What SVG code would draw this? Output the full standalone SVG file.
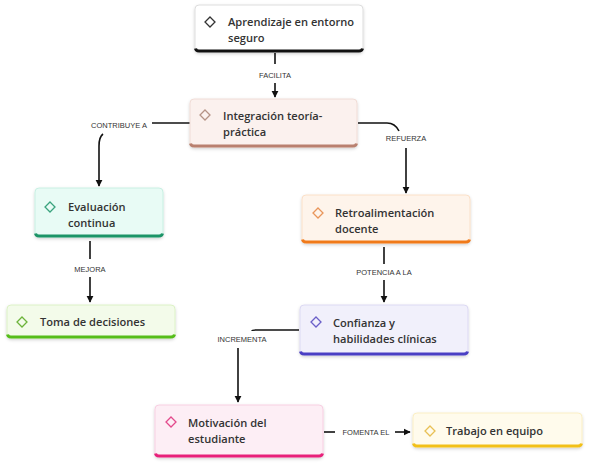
<svg xmlns="http://www.w3.org/2000/svg" width="589" height="464" viewBox="0 0 589 464">
<defs>
<marker id="ah" viewBox="0 0 10 10" refX="9" refY="5" markerWidth="4.5" markerHeight="4.5" orient="auto" markerUnits="strokeWidth">
<path d="M0,0 L10,5 L0,10 z" fill="#111"/>
</marker>
<filter id="sh" x="-10%" y="-20%" width="120%" height="150%">
<feDropShadow dx="0" dy="1.5" stdDeviation="1.5" flood-color="#000" flood-opacity="0.18"/>
</filter>
</defs>
<style>
.t{font-family:"Open Sans","Noto Sans",sans-serif;font-size:11.1px;font-weight:600;fill:#333}
.l{font-family:"Liberation Sans","Noto Sans",sans-serif;font-size:7.5px;fill:#333;text-anchor:middle}
.c{fill:none;stroke:#111;stroke-width:1.6}
.d{fill:none;stroke-width:1.3}
.b{fill:none;stroke-width:3}
</style>
<rect width="589" height="464" fill="#fff"/>

<g id="connectors">
<path class="c" d="M275,53 V64"/>
<text class="l" x="275" y="78">FACILITA</text>
<path class="c" d="M275,83 V97" marker-end="url(#ah)"/>

<path class="c" d="M190,123 H152"/>
<text class="l" x="119" y="128">CONTRIBUYE A</text>
<path class="c" d="M103,134 Q99,137 99,146 V186" marker-end="url(#ah)"/>

<path class="c" d="M358,123 H387 Q395,123 399,131"/>
<text class="l" x="406" y="141">REFUERZA</text>
<path class="c" d="M406,148 V193" marker-end="url(#ah)"/>

<path class="c" d="M90,241 V259"/>
<text class="l" x="90" y="272">MEJORA</text>
<path class="c" d="M90,277 V302" marker-end="url(#ah)"/>

<path class="c" d="M384,247 V264"/>
<text class="l" x="384" y="275">POTENCIA A LA</text>
<path class="c" d="M384,280 V302" marker-end="url(#ah)"/>

<path class="c" d="M299,330 H256 Q252,330 252,331"/>
<text class="l" x="242" y="342">INCREMENTA</text>
<path class="c" d="M238,348 V402" marker-end="url(#ah)"/>

<path class="c" d="M324,432 H335"/>
<text class="l" x="366" y="435">FOMENTA EL</text>
<path class="c" d="M395,432 H410" marker-end="url(#ah)"/>
</g>

<g id="n1">
<rect x="195" y="5" width="168" height="47" rx="4" fill="#ffffff" stroke="#dddddd" filter="url(#sh)"/>
<path class="b" d="M195.5,48.5 Q196,51 199,51 H359 Q362,51 362.5,48.5" stroke="#111"/>
<path class="d" d="M210,17 L215,22 L210,27 L205,22 Z" stroke="#333"/>
<text class="t" x="228" y="26">Aprendizaje en entorno</text>
<text class="t" x="228" y="42">seguro</text>
</g>

<g id="n2">
<rect x="190" y="99" width="167" height="48" rx="4" fill="#fbf1ee" stroke="#f0dcd6" filter="url(#sh)"/>
<path class="b" d="M190.5,143.5 Q191,146 194,146 H353 Q356,146 356.5,143.5" stroke="#b9806f"/>
<path class="d" d="M205,110 L210,115 L205,120 L200,115 Z" stroke="#b59386"/>
<text class="t" x="223" y="120">Integración teoría-</text>
<text class="t" x="223" y="136">práctica</text>
</g>

<g id="n3">
<rect x="35" y="188" width="128" height="49" rx="4" fill="#e8fbf5" stroke="#c8f0e3" filter="url(#sh)"/>
<path class="b" d="M35.5,233.5 Q36,236 39,236 H159 Q162,236 162.5,233.5" stroke="#1c9467"/>
<path class="d" d="M50,202 L55,207 L50,212 L45,207 Z" stroke="#3aa37e"/>
<text class="t" x="68" y="211">Evaluación</text>
<text class="t" x="68" y="227">continua</text>
</g>

<g id="n4">
<rect x="7" y="305" width="168" height="33" rx="4" fill="#f3fbea" stroke="#dcf2c6" filter="url(#sh)"/>
<path class="b" d="M7.5,334.5 Q8,337 11,337 H171 Q174,337 174.5,334.5" stroke="#55bd19"/>
<path class="d" d="M22,317 L27,322 L22,327 L17,322 Z" stroke="#6cb33a"/>
<text class="t" x="40" y="326">Toma de decisiones</text>
</g>

<g id="n5">
<rect x="302" y="195" width="168" height="48" rx="4" fill="#fef4eb" stroke="#fbe0c8" filter="url(#sh)"/>
<path class="b" d="M302.5,239.5 Q303,242 306,242 H466 Q469,242 469.5,239.5" stroke="#f07a1a"/>
<path class="d" d="M318,208 L323,213 L318,218 L313,213 Z" stroke="#e9955a"/>
<text class="t" x="335" y="217">Retroalimentación</text>
<text class="t" x="335" y="233">docente</text>
</g>

<g id="n6">
<rect x="300" y="305" width="168" height="50" rx="4" fill="#f1f0fb" stroke="#dcd9f3" filter="url(#sh)"/>
<path class="b" d="M300.5,351.5 Q301,354 304,354 H464 Q467,354 467.5,351.5" stroke="#4a3fc4"/>
<path class="d" d="M316,317 L321,322 L316,327 L311,322 Z" stroke="#6a5fc8"/>
<text class="t" x="333" y="327">Confianza y</text>
<text class="t" x="333" y="343">habilidades clínicas</text>
</g>

<g id="n7">
<rect x="155" y="405" width="168" height="52" rx="4" fill="#fdeef5" stroke="#f8cfe2" filter="url(#sh)"/>
<path class="b" d="M155.5,453.5 Q156,456 159,456 H319 Q322,456 322.5,453.5" stroke="#e8207a"/>
<path class="d" d="M171,417 L176,422 L171,427 L166,422 Z" stroke="#e34a8c"/>
<text class="t" x="188" y="427">Motivación del</text>
<text class="t" x="188" y="443">estudiante</text>
</g>

<g id="n8">
<rect x="413" y="413" width="169" height="34" rx="4" fill="#fffbec" stroke="#fbefc4" filter="url(#sh)"/>
<path class="b" d="M413.5,443.5 Q414,446 417,446 H578 Q581,446 581.5,443.5" stroke="#f2c018"/>
<path class="d" d="M430,426 L435,431 L430,436 L425,431 Z" stroke="#e8c055"/>
<text class="t" x="446" y="435">Trabajo en equipo</text>
</g>
</svg>
